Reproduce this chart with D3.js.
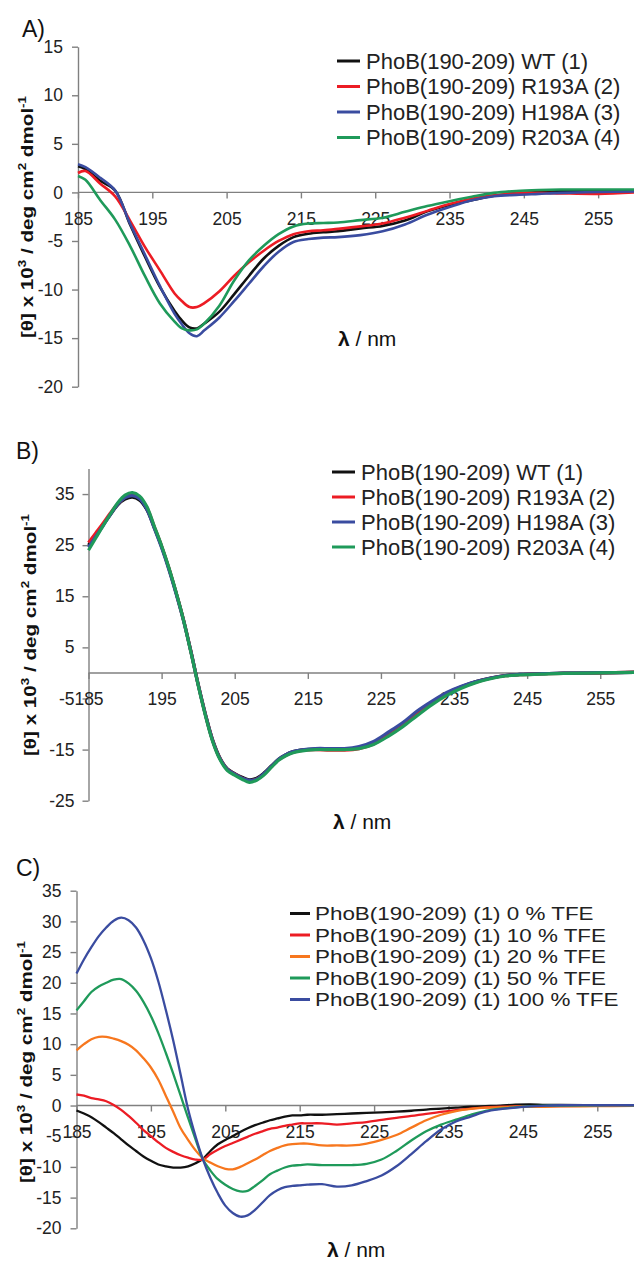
<!DOCTYPE html>
<html><head><meta charset="utf-8">
<script src="https://cdn.jsdelivr.net/npm/d3@7"></script>
<style>
html,body{margin:0;padding:0;background:#fff;}
svg{display:block;font-family:"Liberation Sans",Arial,sans-serif;}
</style></head>
<body>
<svg id="chart" width="634" height="1261"></svg>
<script>
// ---------- DATA ----------
const xTicks = [185,195,205,215,225,235,245,255];

// Panel A
const lamA = [185,186,188,190,192,194,196,198,199,200,201,202,204,206,208,210,212,214,216,218,220,223,226,229,232,235,238,241,244,247,250,255,260];
const aWT    = [2.7,2.4,1.2,0.2,-3.3,-6.6,-9.7,-12.2,-13.2,-13.9,-14.0,-13.5,-12.3,-10.5,-8.6,-6.8,-5.5,-4.6,-4.25,-4.1,-4.0,-3.7,-3.45,-2.9,-1.95,-1.3,-0.8,-0.35,-0.1,0.05,0.15,0.2,0.2];
const aR193A = [2.0,2.2,0.9,-0.4,-2.9,-5.6,-8.0,-10.4,-11.2,-11.8,-11.8,-11.4,-10.2,-8.6,-7.2,-6.0,-5.0,-4.3,-4.0,-3.9,-3.75,-3.5,-3.2,-2.6,-1.9,-1.2,-0.65,-0.3,-0.1,-0.05,-0.1,-0.15,0.0];
const aH198A = [2.9,2.6,1.5,0.2,-3.2,-6.4,-9.6,-12.5,-13.6,-14.5,-14.8,-14.2,-12.9,-11.2,-9.4,-7.6,-6.1,-5.1,-4.8,-4.65,-4.6,-4.4,-4.0,-3.3,-2.3,-1.5,-0.8,-0.4,-0.25,-0.15,-0.05,0.05,0.1];
const aR203A = [1.7,1.3,-0.8,-2.8,-5.5,-8.6,-11.4,-13.3,-14.0,-14.2,-14.1,-13.5,-11.7,-9.1,-7.0,-5.5,-4.3,-3.5,-3.2,-3.15,-3.1,-2.85,-2.6,-2.0,-1.4,-0.9,-0.45,-0.05,0.15,0.25,0.3,0.3,0.3];
const yTicksA = [15,10,5,0,-5,-10,-15,-20];

// Panel B
const lamB = [185,186,187,188,189,190,191,192,193,194,195,196,197,198,199,200,201,202,203,204,205,206,207,208,209,210,211,212,213,214,216,218,220,222,224,226,228,230,232,234,236,238,240,242,244,247,250,255,260];
const bWT    = [25.0,27.0,29.0,31.0,32.9,34.0,34.4,33.8,31.9,28.4,24.7,20.4,15.6,10.4,4.3,-2.2,-8.1,-13.2,-16.7,-18.8,-19.7,-20.4,-20.9,-20.6,-19.6,-18.2,-16.9,-16.0,-15.4,-15.1,-14.9,-14.9,-14.9,-14.6,-13.7,-12.0,-10.1,-7.8,-5.8,-4.0,-2.7,-1.7,-1.0,-0.5,-0.3,-0.15,-0.05,0.0,0.1];
const bR193A = [25.5,27.4,29.3,31.3,33.1,34.4,35.0,34.4,32.3,28.6,24.8,20.5,15.6,10.3,4.2,-2.3,-8.2,-13.3,-16.8,-18.9,-19.8,-20.6,-21.1,-20.8,-19.8,-18.4,-17.0,-16.1,-15.5,-15.2,-15.0,-15.1,-15.1,-14.8,-13.9,-12.2,-10.3,-8.0,-5.9,-4.1,-2.8,-1.8,-1.05,-0.55,-0.35,-0.2,-0.1,0.0,0.15];
const bH198A = [24.6,26.7,28.8,31.0,33.0,34.3,34.7,34.1,32.0,28.3,24.5,20.2,15.4,10.2,4.2,-2.3,-8.2,-13.3,-16.8,-18.9,-19.8,-20.6,-21.0,-20.8,-19.7,-18.3,-16.9,-16.0,-15.4,-15.1,-14.8,-14.8,-14.8,-14.4,-13.4,-11.6,-9.7,-7.4,-5.5,-3.8,-2.6,-1.7,-1.0,-0.5,-0.3,-0.15,-0.05,0.05,0.1];
const bR203A = [24.0,26.4,28.8,31.1,33.3,34.8,35.3,34.6,32.5,28.7,24.9,20.6,15.7,10.3,4.1,-2.4,-8.4,-13.5,-17.0,-19.1,-20.0,-20.8,-21.4,-21.0,-20.0,-18.5,-17.1,-16.2,-15.6,-15.3,-15.0,-15.0,-15.0,-14.8,-14.0,-12.4,-10.5,-8.3,-6.2,-4.4,-3.0,-1.9,-1.15,-0.6,-0.4,-0.25,-0.1,0.0,0.1];
const yTicksB = [35,25,15,5,-5,-15,-25];

// Panel C
const lamC = [185,186,187,188,189,190,191,192,193,194,195,196,197,198,199,200,201,202,203,204,205,206,207,208,209,210,211,212,213,214,215,216,218,220,222,224,226,228,230,232,234,236,238,240,242,244,246,248,250,255,260];
const cTFE0   = [-0.8,-1.3,-1.9,-2.7,-3.6,-4.5,-5.5,-6.5,-7.4,-8.3,-9.0,-9.6,-9.9,-10.1,-10.1,-9.9,-9.4,-8.7,-7.4,-6.3,-5.6,-5.0,-4.3,-3.7,-3.2,-2.8,-2.4,-2.1,-1.8,-1.6,-1.6,-1.5,-1.5,-1.4,-1.3,-1.2,-1.1,-1.0,-0.85,-0.65,-0.5,-0.35,-0.2,-0.1,0.0,0.15,0.2,0.1,0.1,0.05,0.05];
const cTFE10  = [1.8,1.6,1.2,1.0,0.7,0.1,-0.7,-1.7,-2.8,-4.0,-5.0,-6.0,-6.9,-7.55,-8.1,-8.5,-8.8,-8.8,-7.9,-7.2,-6.6,-6.1,-5.6,-5.1,-4.6,-4.2,-3.8,-3.6,-3.3,-3.1,-2.9,-2.9,-2.9,-3.1,-2.9,-2.7,-2.35,-2.0,-1.7,-1.35,-1.05,-0.75,-0.5,-0.3,-0.2,-0.15,-0.15,-0.1,-0.1,-0.05,0.0];
const cTFE20  = [9.0,10.0,10.8,11.2,11.2,10.9,10.5,9.9,9.0,7.7,6.2,4.2,1.6,-1.0,-3.7,-5.6,-7.3,-8.6,-9.3,-9.9,-10.3,-10.4,-10.0,-9.4,-8.8,-8.1,-7.4,-6.9,-6.5,-6.3,-6.2,-6.2,-6.5,-6.5,-6.5,-6.2,-5.6,-4.8,-3.6,-2.4,-1.5,-0.9,-0.55,-0.35,-0.25,-0.2,-0.2,-0.2,-0.15,-0.1,-0.05];
const cTFE50  = [15.5,17.0,18.5,19.4,20.0,20.5,20.6,19.9,18.7,16.9,14.6,11.8,8.6,5.2,1.6,-2.0,-5.5,-8.8,-10.6,-12.0,-12.9,-13.6,-14.0,-13.9,-13.1,-12.2,-11.2,-10.6,-10.1,-9.8,-9.7,-9.6,-9.7,-9.7,-9.7,-9.5,-8.8,-7.4,-5.7,-4.2,-3.1,-2.3,-1.5,-0.85,-0.5,-0.3,-0.1,0.0,0.0,0.05,0.05];
const cTFE100 = [21.5,23.8,25.8,27.6,29.0,30.1,30.6,30.2,29.0,26.9,24.0,20.2,15.6,10.6,5.0,-0.6,-5.0,-8.8,-11.8,-14.3,-16.3,-17.5,-18.1,-17.9,-17.0,-15.8,-14.6,-13.8,-13.3,-13.1,-13.0,-12.9,-12.8,-13.2,-13.0,-12.3,-11.4,-9.9,-7.9,-5.8,-3.9,-2.6,-1.8,-1.0,-0.6,-0.35,-0.15,0.0,0.05,0.05,0.05];
const yTicksC = [35,30,25,20,15,10,5,0,-5,-10,-15,-20];

const labelsAB = ["PhoB(190-209) WT (1)","PhoB(190-209) R193A (2)","PhoB(190-209) H198A (3)","PhoB(190-209) R203A (4)"];
const labelsC = ["PhoB(190-209) (1) 0 % TFE","PhoB(190-209) (1) 10 % TFE","PhoB(190-209) (1) 20 % TFE","PhoB(190-209) (1) 50 % TFE","PhoB(190-209) (1) 100 % TFE"];
const colAB = ["#111111","#ec1c24","#3a4ca0","#1f9a5a"];
const colC  = ["#111111","#ec1c24","#f7771e","#1f9a5a","#3a4ca0"];

// ---------- DRAW ----------
const svg = d3.select("#chart");
const AXC = "#808080", TXT = "#222";
const fmt = d => String(d);

function panel(cfg){
  const g = svg.append("g");
  const x = d3.scaleLinear().domain([185,260]).range(cfg.xr);
  const y = d3.scaleLinear().domain(cfg.yd).range(cfg.yr);
  const ya = g.append("g").attr("transform",`translate(${cfg.xr[0]},0)`)
    .call(d3.axisLeft(y).tickValues(cfg.yt).tickSize(6).tickSizeOuter(0).tickPadding(cfg.yPad).tickFormat(fmt));
  const xa = g.append("g").attr("transform",`translate(0,${y(0)})`)
    .call(d3.axisBottom(x).tickValues(xTicks).tickSize(6).tickSizeOuter(0).tickPadding(14).tickFormat(fmt));
  [ya,xa].forEach(a=>{
    a.selectAll("path,line").attr("stroke",AXC).attr("stroke-width",1.4);
    a.selectAll("text").attr("fill",TXT).attr("font-size",17.5).attr("font-family","Liberation Sans, Arial, sans-serif");
  });
  xa.select(".domain").attr("d",`M${cfg.xr[0]},0H634`);
  const line = d3.line().x(d=>x(d[0])).y(d=>y(d[1])).curve(d3.curveCatmullRom.alpha(0.5));
  cfg.series.forEach((s,i)=>{
    g.append("path").datum(cfg.lam.map((l,j)=>[l,s[j]]))
      .attr("d",line).attr("fill","none").attr("stroke",cfg.cols[i])
      .attr("stroke-width",cfg.lw).attr("stroke-linejoin","round");
  });
  const lg = g.append("g");
  cfg.labels.forEach((t,i)=>{
    const yy = cfg.leg.y0 + i*cfg.leg.dy;
    lg.append("line").attr("x1",cfg.leg.x1).attr("x2",cfg.leg.x2).attr("y1",yy).attr("y2",yy)
      .attr("stroke",cfg.cols[i]).attr("stroke-width",3);
    lg.append("text").attr("transform",`translate(${cfg.leg.tx},${yy}) scale(${cfg.leg.sx},1)`)
      .attr("dy","0.36em").attr("font-size",cfg.leg.fs).attr("fill",TXT).text(t);
  });
  g.append("text").attr("x",cfg.letter[0]).attr("y",cfg.letter[1]).attr("font-size",23).attr("fill","#111").text(cfg.name);
  const yt = g.append("text").attr("transform",`translate(${cfg.ytitle[0]},${cfg.ytitle[1]}) rotate(-90)`)
    .attr("text-anchor","middle").attr("font-weight","bold").attr("font-size",17).attr("fill","#111")
    .attr("textLength",242).attr("lengthAdjust","spacingAndGlyphs");
  yt.append("tspan").text("[θ] x 10");
  yt.append("tspan").attr("dy",-7).attr("font-size",11).text("3");
  yt.append("tspan").attr("dy",7).text(" / deg cm");
  yt.append("tspan").attr("dy",-7).attr("font-size",11).text("2");
  yt.append("tspan").attr("dy",7).text(" dmol");
  yt.append("tspan").attr("dy",-7).attr("font-size",11).text("-1");
  const xt = g.append("text").attr("x",cfg.xtitle[0]).attr("y",cfg.xtitle[1]).attr("font-size",21).attr("fill","#111");
  xt.append("tspan").attr("font-weight","bold").text("λ");
  xt.append("tspan").text(" / nm");
}

panel({name:"A)", xr:[78,635.3], yd:[-20,15], yr:[386.7,46.7], yt:yTicksA, yPad:9,
  lam:lamA, series:[aWT,aR193A,aH198A,aR203A], cols:colAB, lw:2.6, labels:labelsAB,
  leg:{x1:337,x2:360,tx:366,y0:61,dy:25.5,fs:22,sx:1},
  letter:[22,37], ytitle:[33,217], xtitle:[338,346]});

panel({name:"B)", xr:[88.5,636.8], yd:[-25,40], yr:[800.7,468.5], yt:yTicksB, yPad:8,
  lam:lamB, series:[bWT,bR193A,bH198A,bR203A], cols:colAB, lw:3.2, labels:labelsAB,
  leg:{x1:332,x2:355,tx:361,y0:472,dy:25,fs:22,sx:1},
  letter:[16,459], ytitle:[36,635], xtitle:[333,829]});

panel({name:"C)", xr:[76.5,634.5], yd:[-20,35], yr:[1228.3,890.7], yt:yTicksC, yPad:9,
  lam:lamC, series:[cTFE0,cTFE10,cTFE20,cTFE50,cTFE100], cols:colC, lw:2.3, labels:labelsC,
  leg:{x1:290,x2:310,tx:315,y0:913.5,dy:21.5,fs:19,sx:1.18},
  letter:[16,876], ytitle:[32,1062], xtitle:[327,1257]});
</script>
</body></html>
